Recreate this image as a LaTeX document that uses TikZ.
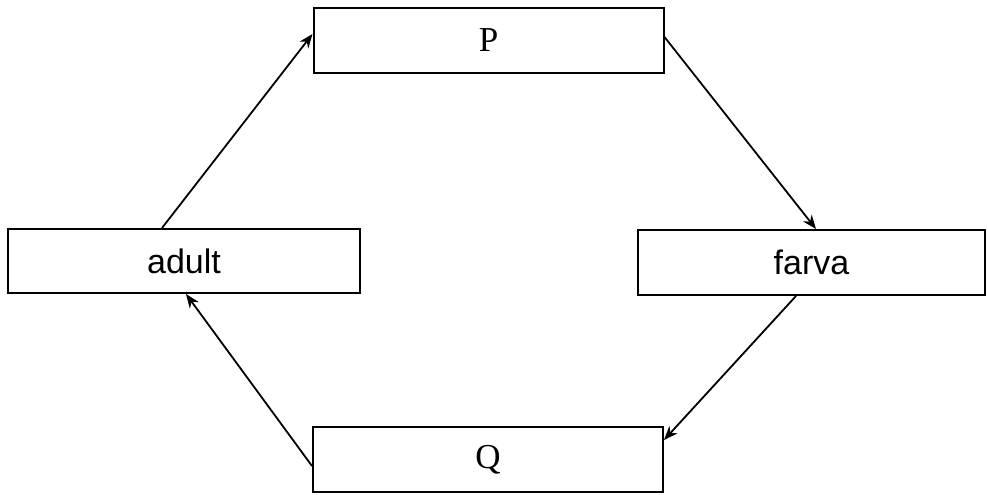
\documentclass[tikz,border=0pt]{standalone}
\usepackage{fontspec}
\setmainfont{Liberation Serif}
\newfontfamily\arialfont{Liberation Sans}
\usetikzlibrary{arrows.meta}
\begin{document}
\begin{tikzpicture}[x=1pt,y=-1pt,
  box/.style={draw=black, line width=2pt, rectangle, inner sep=0pt, minimum width=350pt, minimum height=65pt},
  sanslabel/.style={font=\arialfont\fontsize{34}{34}\selectfont},
  seriflabel/.style={font=\fontsize{35}{35}\selectfont},
  arr/.style={draw=black, line width=1.8pt, -{Stealth[length=14pt,width=11pt]}}]
\useasboundingbox (0,0) rectangle (988,495);
\node[box, seriflabel] (P) at (488.5,40.5) {P};
\node[box, sanslabel, minimum width=352pt, minimum height=64pt] (adult) at (184,261) {adult};
\node[box, sanslabel, minimum width=347pt] (larva) at (811.5,262.5) {farva};
\node[box, seriflabel] (Q) at (488,459.5) {Q};
\draw[arr] ([xshift=155pt]adult.north west) -- ([yshift=-27pt]P.north west);
\draw[arr] ([yshift=-30pt]P.north east) -- ([xshift=179pt]larva.north west);
\draw[arr] ([xshift=159pt]larva.south west) -- ([yshift=-14pt]Q.north east);
\draw[arr] ([yshift=-40pt]Q.north west) -- ([xshift=179pt]adult.south west);
\end{tikzpicture}
\end{document}
